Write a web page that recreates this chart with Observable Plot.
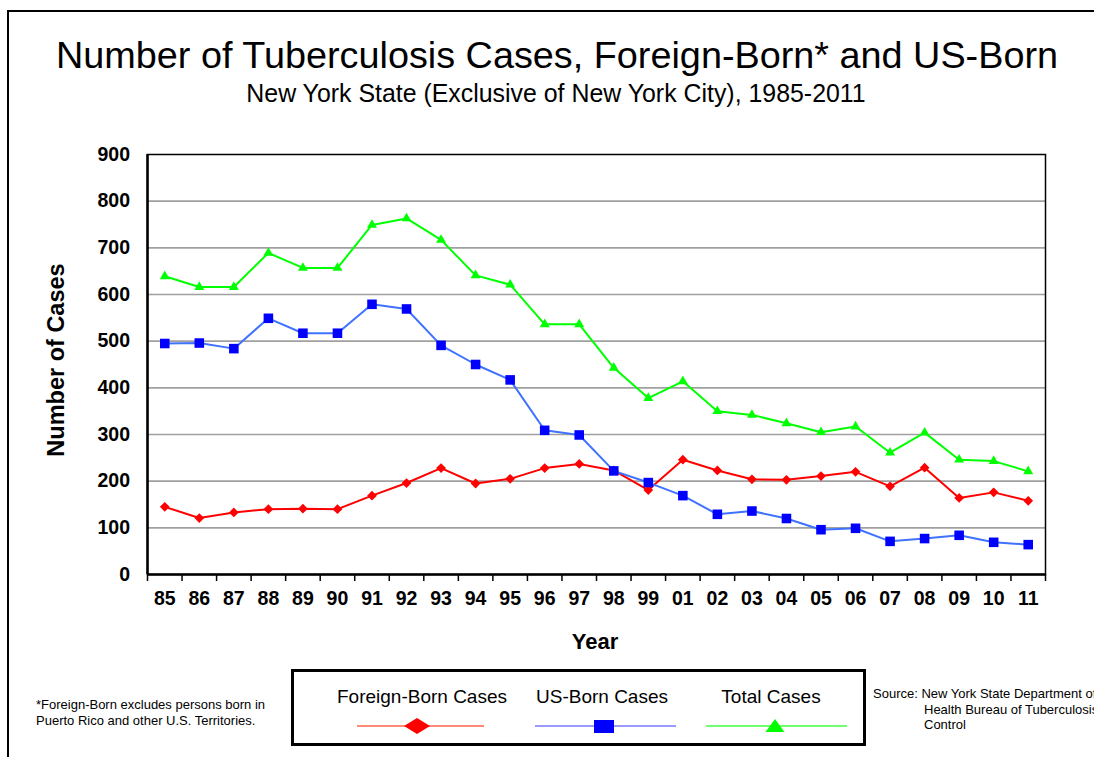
<!DOCTYPE html>
<html><head><meta charset="utf-8">
<script src="https://cdn.jsdelivr.net/npm/d3@7"></script>
<script src="https://cdn.jsdelivr.net/npm/@observablehq/plot@0.6"></script>
<style>
body{margin:0;background:#fff;}
#root{position:relative;width:1094px;height:757px;overflow:hidden;font-family:"Liberation Sans",Arial,sans-serif;color:#000;background:#fff;}
.t{position:absolute;white-space:nowrap;line-height:1;}
.c{transform:translate(-50%,-50%);}
.l{transform:translate(0,-50%);}
</style></head><body><div id="root"></div>
<script>
const years = ["85","86","87","88","89","90","91","92","93","94","95","96","97","98","99","01","02","03","04","05","06","07","08","09","10","11"];
const foreignBorn = [145,121,133,140,141,140,169,196,228,195,205,228,237,223,181,246,223,204,203,211,220,189,229,164,176,158];
const usBorn = [495,496,484,549,517,517,579,569,491,450,417,309,299,222,197,169,129,136,120,96,99,71,77,84,69,64];
const totalCases = [639,616,616,689,657,657,749,763,717,641,621,536,536,443,378,414,350,342,324,305,317,261,304,246,243,221];
const yTicks = [0,100,200,300,400,500,600,700,800,900];
const seriesNames = ["Foreign-Born Cases","US-Born Cases","Total Cases"];
const titleText = "Number of Tuberculosis Cases, Foreign-Born* and US-Born";
const subtitleText = "New York State (Exclusive of New York City), 1985-2011";
const xTitle = "Year";
const yTitle = "Number of Cases";
const footnote = ["*Foreign-Born excludes persons born in","Puerto Rico and other U.S. Territories."];
const sourceLines = ["Source: New York State Department of","Health Bureau of Tuberculosis","Control"];

const root = document.getElementById("root");
function addText(txt, x, y, cls, style){
  const d = document.createElement("div");
  d.className = "t " + cls;
  d.textContent = txt;
  d.style.left = x + "px"; d.style.top = y + "px";
  Object.assign(d.style, style || {});
  root.appendChild(d);
  return d;
}
// outer border
const border = document.createElement("div");
Object.assign(border.style,{position:"absolute",left:"7px",top:"10px",width:"1200px",height:"800px",borderTop:"2px solid #000",borderLeft:"2px solid #000"});
root.appendChild(border);

addText(titleText, 557, 56, "c", {fontSize:"37.8px"});
addText(subtitleText, 556, 93, "c", {fontSize:"24.9px"});

const rows = years.map((label,i)=>({i,label,foreign:foreignBorn[i],us:usBorn[i],total:totalCases[i]}));
const boundaries = d3.range(years.length+1).map(i=>i-0.5);
const font = "Liberation Sans, Arial, sans-serif";

const chart = Plot.plot({
  width:1094, height:530,
  marginTop:14, marginLeft:147, marginRight:49, marginBottom:96,
  x:{domain:[-0.5, years.length-0.5], label:null},
  y:{domain:[0,900], label:null},
  style:{fontFamily:font, background:"transparent", overflow:"visible"},
  marks:[
    Plot.ruleY(yTicks.filter(d=>d>0 && d<900), {stroke:"#a0a0a0", strokeWidth:1.6}),
    Plot.frame({stroke:"#000", strokeWidth:1.5}),
    Plot.ruleX([-0.5], {stroke:"#000", strokeWidth:2.5}),
    Plot.ruleY([0], {stroke:"#000", strokeWidth:2.5}),
    Plot.axisX(boundaries, {tickSize:7, tickFormat:()=>"", stroke:"#000", strokeWidth:1.5, label:null}),
    Plot.axisX(d3.range(years.length), {tickSize:0, tickPadding:17, tickFormat:i=>years[i], fontSize:19.5, fontWeight:"bold", fill:"#000", label:null}),
    Plot.axisY(yTicks, {tickSize:0, tickPadding:17.5, fontSize:19.5, fontWeight:"bold", fill:"#000", label:null}),
    Plot.line(rows, {x:"i", y:"foreign", stroke:"#ff0000", strokeWidth:2}),
    Plot.dot(rows, {x:"i", y:"foreign", symbol:"diamond2", r:4.4, fill:"#ff0000", stroke:null}),
    Plot.line(rows, {x:"i", y:"us", stroke:"#3f72ff", strokeWidth:2}),
    Plot.dot(rows, {x:"i", y:"us", symbol:"square", r:5.4, fill:"#0000ff", stroke:null}),
    Plot.line(rows, {x:"i", y:"total", stroke:"#00ff00", strokeWidth:2}),
    Plot.dot(rows, {x:"i", y:"total", symbol:"triangle", r:3.7, fill:"#00ff00", stroke:null})
  ]
});
chart.style.position = "absolute";
chart.style.left = "0px";
chart.style.top = "140px";
root.appendChild(chart);

addText(xTitle, 595, 642, "c", {fontSize:"22px", fontWeight:"bold"});
addText(yTitle, 57, 360, "c", {fontSize:"23.5px", fontWeight:"bold", transform:"translate(-50%,-50%) rotate(-90deg)"});

// legend box
const box = document.createElement("div");
Object.assign(box.style,{position:"absolute",left:"291px",top:"669px",width:"575px",height:"77px",border:"3px solid #000",boxSizing:"border-box"});
root.appendChild(box);
const legendCenters = [422, 602, 771];
seriesNames.forEach((n,k)=>addText(n, legendCenters[k], 696, "c", {fontSize:"19px"}));
const lsvg = d3.select(root).append("svg")
  .attr("width",1094).attr("height",757)
  .style("position","absolute").style("left","0px").style("top","0px").style("pointer-events","none");
const legendLines = [[357,484,"#ff6347"],[535,676,"#7878ff"],[706,847,"#40ff40"]];
legendLines.forEach(([a,b,c])=>lsvg.append("line").attr("x1",a).attr("x2",b).attr("y1",726).attr("y2",726).attr("stroke",c).attr("stroke-width",1.5));
lsvg.append("path").attr("d","M404,726L417,718L430,726L417,734Z").attr("fill","#ff0000");
lsvg.append("rect").attr("x",594).attr("y",720).attr("width",20).attr("height",13).attr("fill","#0000ff");
lsvg.append("path").attr("d","M775,719L784.5,732L765.5,732Z").attr("fill","#00ff00");

addText(footnote[0], 36, 704, "l", {fontSize:"13px"});
addText(footnote[1], 36, 720, "l", {fontSize:"13px"});
addText(sourceLines[0], 873, 693, "l", {fontSize:"13px"});
addText(sourceLines[1], 924, 709, "l", {fontSize:"13px"});
addText(sourceLines[2], 924, 724, "l", {fontSize:"13px"});
</script></body></html>
